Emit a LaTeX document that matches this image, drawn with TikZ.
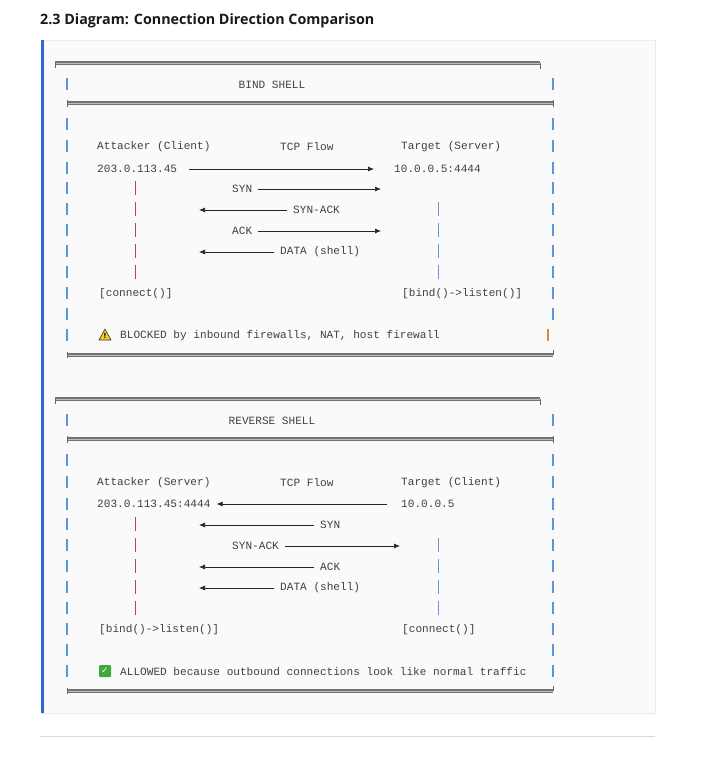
\documentclass[tikz,border=0pt]{standalone}
\usepackage{fontspec}
\setmainfont{Open Sans}
\newfontfamily\mono{Liberation Mono}
\newfontfamily\djv{DejaVu Sans}
\usetikzlibrary{arrows.meta}
\definecolor{vbc}{RGB}{90,150,220}
\definecolor{redc}{RGB}{190,70,70}
\definecolor{bluc}{RGB}{100,150,220}
\definecolor{barc}{RGB}{50,100,220}
\definecolor{orc}{RGB}{220,140,40}
\definecolor{grc}{RGB}{60,170,60}
\definecolor{ylc}{RGB}{250,200,40}
\begin{document}
\begin{tikzpicture}[x=1pt,y=-1pt,
  txt/.style={font=\mono\fontsize{11.1}{12}\selectfont,text=black!75,anchor=west,inner sep=0pt,yshift=-1pt},
  hbar/.style={draw=black!55,line width=1.6pt,double=black!25,double distance=0.4pt},
  vb/.style={draw=vbc,line width=1.4pt},
  redb/.style={draw=redc,line width=0.9pt},
  blub/.style={draw=bluc,line width=0.9pt},
  arr/.style={draw=black!85,line width=0.7pt,-{Latex[length=6pt,width=5pt]}}]
\useasboundingbox (0,0) rectangle (701,773);
\fill[white] (0,0) rectangle (701,773);
\node[anchor=west,inner sep=0pt,font=\bfseries\fontsize{14.3}{16}\selectfont,text=black!90] (title) at (40,21) {2.3 Diagram: Connection Direction Comparison};
\fill[black!2,draw=black!8] (42,40) rectangle (655,713);
\fill[barc] (41,40) rectangle (44,713);
\draw[black!15,line width=1pt] (40,736) -- (655,736);

\foreach \off/\ttl in {0/BIND SHELL,336/REVERSE SHELL}{
  \begin{scope}[yshift=-\off]
  \draw[hbar] (55,63) -- (540,63);
  \draw[hbar] (67,103) -- (553,103);
  \draw[hbar] (67,355) -- (553,355);
  \draw[black!60,line width=1pt] (55,63) -- (55,68) (540,63) -- (540,69) (67,100) -- (67,107) (553,100)--(553,107) (553,350)--(553,355) (67,352)--(67,358);
  \foreach \y in {84,124,146,168,188,209,230,251,272,293,314,335}{
    \draw[vb] (67,\y-6) -- (67,\y+6);
  }
  \foreach \y in {84,124,146,168,188,209,230,251,272,293,314}{
    \draw[vb] (553,\y-6) -- (553,\y+6);
  }
  \node[txt,anchor=center] (t\off) at (272,84) {\ttl};
  \node[txt] (h1\off) at (97,146) {Attacker (\ifnum\off=0 Client\else Server\fi)};
  \node[txt] (h2\off) at (280,146) {TCP Flow};
  \node[txt] (h3\off) at (401,146) {Target (\ifnum\off=0 Server\else Client\fi)};
  \foreach \y in {188,209,230,251,272}{\draw[redb] (135,\y-7) -- (135,\y+7);}
  \foreach \y in {209,230,251,272}{\draw[blub] (438,\y-7) -- (438,\y+7);}
  \end{scope}
}
\node[txt] (ipa) at (97,168) {203.0.113.45};
\node[txt] (ipt) at (394,168) {10.0.0.5:4444};
\draw[arr] ([xshift=12pt]ipa.east) -- ([xshift=-20pt]ipt.west);
\node[txt] (s1) at (232,188) {SYN};
\coordinate (s1e) at (381,188);
\draw[arr] ([xshift=6pt]s1.east) -- (s1.east -| s1e);
\node[txt] (s2) at (293,209) {SYN-ACK};
\coordinate (s2e) at (199,209);
\draw[arr] ([xshift=-6pt]s2.west) -- (s2.west -| s2e);
\node[txt] (s3) at (232,230) {ACK};
\coordinate (s3e) at (381,230);
\draw[arr] ([xshift=6pt]s3.east) -- (s3.east -| s3e);
\node[txt] (s4) at (280,251) {DATA (shell)};
\coordinate (s4e) at (199,251);
\draw[arr] ([xshift=-6pt]s4.west) -- (s4.west -| s4e);
\node[txt] (c1) at (99,293) {[connect()]};
\node[txt] (c2) at (402,293) {[bind()->listen()]};
\filldraw[fill=ylc,draw=black!80,line width=0.6pt,line join=round] (99,340) -- (105,329) -- (111,340) -- cycle;
\node[anchor=center,inner sep=0pt,font=\djv\bfseries\fontsize{7}{7}\selectfont] (w) at (105,336) {!};
\node[txt] (blk) at (120,335) {BLOCKED by inbound firewalls, NAT, host firewall};
\draw[draw=orc,line width=1.6pt] (548,329) -- (548,341);

\node[txt] (rip) at (97,503) {203.0.113.45:4444};
\node[txt] (rit) at (401,503) {10.0.0.5};
\draw[arr] ([xshift=-14pt]rit.west) -- ([xshift=6pt]rip.east);
\node[txt] (r1) at (320,524) {SYN};
\coordinate (r1e) at (199,524);
\draw[arr] ([xshift=-6pt]r1.west) -- (r1.west -| r1e);
\node[txt] (r2) at (232,545) {SYN-ACK};
\coordinate (r2e) at (400,545);
\draw[arr] ([xshift=6pt]r2.east) -- (r2.east -| r2e);
\node[txt] (r3) at (320,566) {ACK};
\coordinate (r3e) at (199,566);
\draw[arr] ([xshift=-6pt]r3.west) -- (r3.west -| r3e);
\node[txt] (r4) at (280,587) {DATA (shell)};
\coordinate (r4e) at (199,587);
\draw[arr] ([xshift=-6pt]r4.west) -- (r4.west -| r4e);
\node[txt] (d1) at (99,629) {[bind()->listen()]};
\node[txt] (d2) at (402,629) {[connect()]};
\fill[grc,rounded corners=1pt] (99,665) rectangle (111,677);
\node[anchor=center,inner sep=0pt,text=white,font=\djv\bfseries\fontsize{9}{9}\selectfont] (ck) at (105,671) {✓};
\node[txt] (alw) at (120,671) {ALLOWED because outbound connections look like normal traffic};
\draw[vb] (553,665) -- (553,677);
\end{tikzpicture}
\end{document}
